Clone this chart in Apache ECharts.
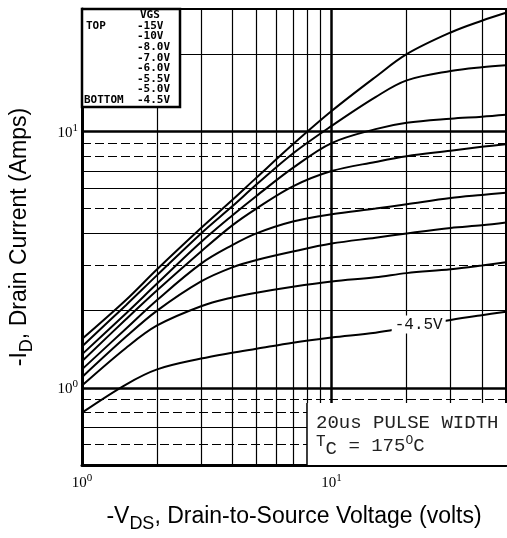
<!DOCTYPE html>
<html>
<head>
<meta charset="utf-8">
<script src="https://cdn.jsdelivr.net/npm/echarts@6/dist/echarts.min.js"></script>
<style>
html,body{margin:0;padding:0;background:#fff;}
#main{width:507px;height:538px;}
</style>
</head>
<body>
<div id="main"></div>
<script>
// ---- data ----
const vds = [1, 1.5, 2, 3, 4, 5, 7, 10, 15, 20, 30, 40, 50];
const vgsNames = ['-15V', '-10V', '-8.0V', '-7.0V', '-6.0V', '-5.5V', '-5.0V', '-4.5V'];
const id15  = [1.55, 2.2, 2.9, 4.2, 5.4, 6.6, 8.9, 12.0, 16.3, 20.0, 24.3, 27.0, 29.0];
const id10  = [1.45, 2.1, 2.75, 4.0, 5.1, 6.2, 8.2, 10.5, 13.6, 15.8, 17.2, 17.8, 18.1];
const id8   = [1.35, 1.95, 2.55, 3.7, 4.7, 5.6, 7.2, 9.0, 10.2, 10.8, 11.2, 11.4, 11.6];
const id7   = [1.27, 1.85, 2.4, 3.4, 4.3, 5.0, 6.1, 7.0, 7.6, 8.0, 8.4, 8.7, 8.9];
const id6   = [1.18, 1.7, 2.2, 3.05, 3.6, 4.0, 4.45, 4.75, 5.0, 5.2, 5.5, 5.65, 5.76];
const id55  = [1.1, 1.58, 2.0, 2.6, 2.95, 3.15, 3.4, 3.65, 3.85, 4.0, 4.2, 4.3, 4.41];
const id5   = [1.02, 1.43, 1.75, 2.08, 2.25, 2.35, 2.48, 2.6, 2.7, 2.8, 2.9, 3.0, 3.09];
const id45  = [0.8, 1.03, 1.18, 1.3, 1.37, 1.42, 1.5, 1.57, 1.64, 1.72, 1.84, 1.92, 1.98];
const curves = [id15, id10, id8, id7, id6, id55, id5, id45];
const labelIndex45 = 9; // point of the -4.5V curve carrying its label

// grid lines
const hGridMajor = [1, 10];
const hGridSolid = [0.7, 2, 4, 6, 7, 20];
const hGridDashed = [0.6, 0.8, 0.9, 3, 5, 8, 9];
const vGridMajor = [10];
const vGridMinor = [2, 3, 4, 5, 6, 7, 8, 9, 20, 30, 40];

// tick labels
const xTickLabels = {1: '{b|10}{s|0}', 10: '{b|10}{s|1}'};
const yTickLabels = {1: '{b|10}{s|0}', 10: '{b|10}{s|1}'};

function tickFmt(map) {
  return function (v) {
    for (const k in map) { if (Math.abs(v - Number(k)) < 1e-6 * Number(k)) return map[k]; }
    return '';
  };
}
const tickRich = {
  b: {fontFamily: 'Liberation Serif', fontSize: 15, color: '#000', verticalAlign: 'bottom', lineHeight: 18},
  s: {fontFamily: 'Liberation Serif', fontSize: 11, color: '#000', verticalAlign: 'top', lineHeight: 18, padding: [0, 0, 7, 0]}
};

const gridLineData = [];
hGridMajor.forEach(v => gridLineData.push({yAxis: v, lineStyle: {width: 2.5, type: 'solid'}}));
hGridSolid.forEach(v => gridLineData.push({yAxis: v, lineStyle: {width: 1.2, type: 'solid'}}));
hGridDashed.forEach(v => gridLineData.push({yAxis: v, lineStyle: {width: 1.2, type: [9, 4]}}));
vGridMajor.forEach(v => gridLineData.push({xAxis: v, lineStyle: {width: 2.5, type: 'solid'}}));
vGridMinor.forEach(v => gridLineData.push({xAxis: v, lineStyle: {width: 1.2, type: 'solid'}}));

const series = [{
  type: 'line', data: [], silent: true,
  markLine: {silent: true, symbol: 'none', label: {show: false},
    lineStyle: {color: '#000'}, emphasis: {disabled: true}, data: gridLineData},
  z: 1
}];
curves.forEach((arr, si) => {
  const s = {
    name: vgsNames[si], type: 'line', smooth: 0.35, symbol: 'none', z: 3,
    lineStyle: {color: '#000', width: 2},
    data: vds.map((v, i) => [v, arr[i]])
  };
  if (si === 7) {
    s.markPoint = {
      silent: true, symbol: 'rect', symbolSize: 1, itemStyle: {color: 'rgba(0,0,0,0)'},
      data: [{coord: [vds[labelIndex45], arr[labelIndex45]],
        label: {show: true, formatter: '-4.5V', position: 'inside', offset: [12, -3],
          fontFamily: 'Liberation Mono', fontSize: 16, color: '#111',
          backgroundColor: '#fff', padding: [1, 3]}}]
    };
  }
  series.push(s);
});

const legendRows = ['-15V', '-10V', '-8.0V', '-7.0V', '-6.0V', '-5.5V', '-5.0V', '-4.5V'];
const legendFont = 'bold 11px "DejaVu Sans Mono"';
const graphic = [
  {type: 'rect', z: 100, shape: {x: 82, y: 9, width: 98, height: 98}, style: {fill: '#fff', stroke: '#000', lineWidth: 2.5}},
  {type: 'text', z: 101, x: 140, y: 10, style: {text: 'VGS', font: legendFont, fill: '#000'}},
  {type: 'text', z: 101, x: 86, y: 21, style: {text: 'TOP', font: legendFont, fill: '#000'}},
  {type: 'text', z: 101, x: 84, y: 95, style: {text: 'BOTTOM', font: legendFont, fill: '#000'}},
  {type: 'rect', z: 100, shape: {x: 307, y: 403, width: 200, height: 62}, style: {fill: '#fff'}},
  {type: 'line', z: 101, shape: {x1: 307, y1: 403, x2: 307, y2: 466}, style: {stroke: '#000', lineWidth: 1.5}},
  {type: 'text', z: 101, x: 316, y: 413, style: {text: '20us PULSE WIDTH', font: '19px "Liberation Mono"', fill: '#222'}},
  {type: 'text', z: 101, x: 316, y: 434, style: {
    text: '{t|T}{c|C}{a| = 175}{o|O}{a|C}',
    rich: {
      t: {font: '16px "Liberation Mono"', fill: '#222', verticalAlign: 'top', lineHeight: 24},
      c: {font: '19px "Liberation Mono"', fill: '#222', verticalAlign: 'bottom', lineHeight: 24},
      a: {font: '19px "Liberation Mono"', fill: '#222', verticalAlign: 'middle', lineHeight: 24},
      o: {font: '13px "Liberation Mono"', fill: '#222', verticalAlign: 'top', lineHeight: 24}
    }}}
];
legendRows.forEach((t, i) => {
  graphic.push({type: 'text', z: 101, x: 137, y: 20.5 + i * 10.6, style: {text: t, font: legendFont, fill: '#000'}});
});

const chart = echarts.init(document.getElementById('main'), null, {renderer: 'canvas'});
chart.setOption({
  animation: false,
  backgroundColor: '#fff',
  grid: {left: 81, right: 1, top: 9, bottom: 72, show: true, borderColor: '#000', borderWidth: 2, containLabel: false},
  xAxis: {
    type: 'log', logBase: 10, min: 1, max: 50,
    name: '{t|-V}{d|DS}{t|, Drain-to-Source Voltage (volts)}',
    nameLocation: 'middle', nameGap: 40,
    nameTextStyle: {rich: {
      t: {fontFamily: 'Liberation Sans', fontSize: 23, color: '#000', verticalAlign: 'top', lineHeight: 28},
      d: {fontFamily: 'Liberation Sans', fontSize: 18, color: '#000', verticalAlign: 'bottom', lineHeight: 28}
    }},
    axisLine: {show: true, lineStyle: {color: '#000', width: 3}},
    axisTick: {show: false},
    splitLine: {show: false},
    axisLabel: {formatter: tickFmt(xTickLabels), rich: tickRich, margin: 8, showMaxLabel: false}
  },
  yAxis: {
    type: 'log', logBase: 10, min: 0.5, max: 30,
    name: '{t|-I}{d|D}{t|, Drain Current (Amps)}',
    nameLocation: 'middle', nameGap: 46, nameRotate: 90,
    nameTextStyle: {rich: {
      t: {fontFamily: 'Liberation Sans', fontSize: 23, color: '#000', verticalAlign: 'top', lineHeight: 28},
      d: {fontFamily: 'Liberation Sans', fontSize: 18, color: '#000', verticalAlign: 'bottom', lineHeight: 28}
    }},
    axisLine: {show: true, lineStyle: {color: '#000', width: 3}},
    axisTick: {show: false},
    splitLine: {show: false},
    axisLabel: {formatter: tickFmt(yTickLabels), rich: tickRich, margin: 4, showMaxLabel: false, showMinLabel: false}
  },
  series: series,
  graphic: graphic
});
</script>
</body>
</html>
